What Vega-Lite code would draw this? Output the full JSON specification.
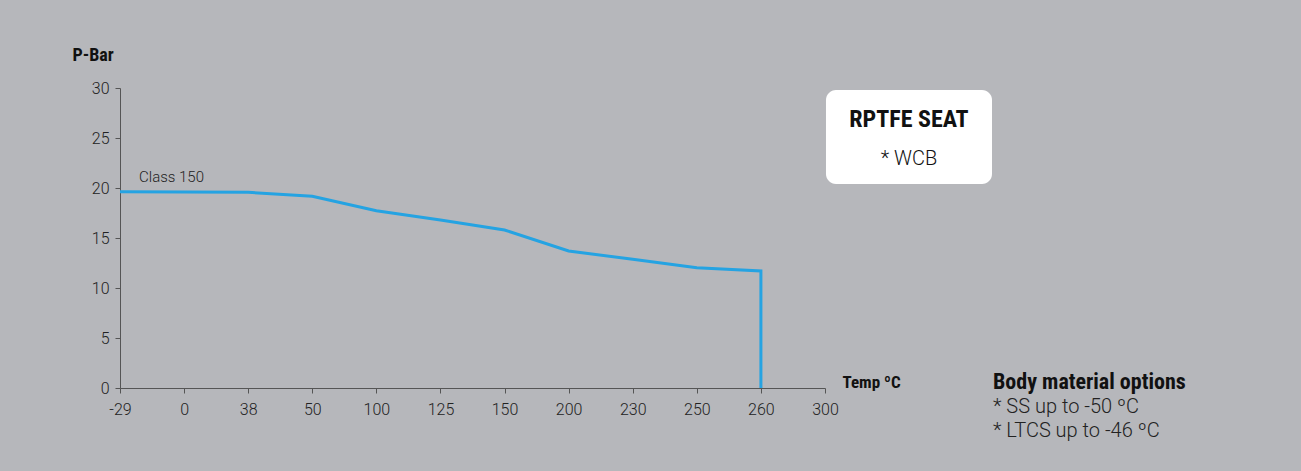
{
  "$schema": "https://vega.github.io/schema/vega-lite/v6.json",
  "width": 705,
  "height": 300,
  "autosize": {"type": "none"},
  "padding": {"left": 120, "top": 88, "right": 476, "bottom": 83},
  "background": "#b6b7bb",
  "config": {
    "view": {"stroke": null},
    "font": "Roboto",
    "axis": {
      "grid": false,
      "domainColor": "#555555",
      "tickColor": "#555555",
      "tickSize": 5,
      "labelFont": "Roboto",
      "labelFontWeight": 300,
      "labelFontSize": 16,
      "labelColor": "#222222",
      "titleFont": "Roboto Condensed, DejaVu Sans Condensed, Roboto",
      "titleFontWeight": "bold",
      "titleColor": "#111111",
      "titleAngle": 0,
      "titleAlign": "left",
      "titleBaseline": "middle"
    }
  },
  "layer": [
    {
      "data": {
        "values": [
          {"seq": 1, "temp": -29, "p": 19.63},
          {"seq": 2, "temp": 0, "p": 19.6},
          {"seq": 3, "temp": 38, "p": 19.57},
          {"seq": 4, "temp": 50, "p": 19.17},
          {"seq": 5, "temp": 100, "p": 17.73},
          {"seq": 6, "temp": 125, "p": 16.8},
          {"seq": 7, "temp": 150, "p": 15.8},
          {"seq": 8, "temp": 200, "p": 13.7},
          {"seq": 9, "temp": 230, "p": 12.87},
          {"seq": 10, "temp": 250, "p": 12.03},
          {"seq": 11, "temp": 260, "p": 11.7},
          {"seq": 12, "temp": 260, "p": 0}
        ]
      },
      "mark": {"type": "line", "color": "#25a3e2", "strokeWidth": 3},
      "encoding": {
        "x": {
          "field": "temp",
          "type": "ordinal",
          "scale": {"type": "point", "padding": 0, "domain": [-29, 0, 38, 50, 100, 125, 150, 200, 230, 250, 260, 300]},
          "axis": {
            "title": "Temp ºC",
            "titleFontSize": 17,
            "titleX": 722,
            "titleY": -6,
            "labelAngle": 0,
            "labelPadding": 8
          }
        },
        "y": {
          "field": "p",
          "type": "quantitative",
          "scale": {"domain": [0, 30], "nice": false},
          "axis": {
            "title": "P-Bar",
            "titleFontSize": 18,
            "titleX": -48,
            "titleY": -33,
            "values": [0, 5, 10, 15, 20, 25, 30],
            "labelPadding": 6
          }
        },
        "order": {"field": "seq"}
      }
    },
    {
      "data": {"values": [{"fx": 1.0014, "fx2": 1.2369, "p": 29.8, "p2": 20.4}]},
      "mark": {"type": "rect", "fill": "white", "cornerRadius": 10},
      "encoding": {
        "x": {"field": "fx", "type": "quantitative", "scale": {"domain": [0, 1], "nice": false}, "axis": null},
        "x2": {"field": "fx2"},
        "y": {"field": "p", "type": "quantitative", "scale": {"domain": [0, 30], "nice": false}},
        "y2": {"field": "p2"}
      }
    },
    {
      "data": {"values": [{"fx": 1.1191, "p": 26.8, "label": "RPTFE SEAT"}]},
      "mark": {"type": "text", "font": "Roboto Condensed, DejaVu Sans Condensed, Roboto", "fontWeight": "bold", "fontSize": 24, "color": "#111111", "align": "center", "baseline": "middle"},
      "encoding": {
        "x": {"field": "fx", "type": "quantitative", "scale": {"domain": [0, 1], "nice": false}, "axis": null},
        "y": {"field": "p", "type": "quantitative", "scale": {"domain": [0, 30], "nice": false}},
        "text": {"field": "label"}
      }
    },
    {
      "data": {"values": [{"fx": 1.1191, "p": 22.9, "label": "* WCB"}]},
      "mark": {"type": "text", "font": "Roboto", "fontWeight": 300, "fontSize": 20, "color": "#111111", "align": "center", "baseline": "middle"},
      "encoding": {
        "x": {"field": "fx", "type": "quantitative", "scale": {"domain": [0, 1], "nice": false}, "axis": null},
        "y": {"field": "p", "type": "quantitative", "scale": {"domain": [0, 30], "nice": false}},
        "text": {"field": "label"}
      }
    },
    {
      "data": {"values": [{"fx": 0.027, "p": 21.1, "label": "Class 150"}]},
      "mark": {"type": "text", "font": "Roboto", "fontWeight": 300, "fontSize": 15, "color": "#222222", "align": "left", "baseline": "middle"},
      "encoding": {
        "x": {"field": "fx", "type": "quantitative", "scale": {"domain": [0, 1], "nice": false}, "axis": null},
        "y": {"field": "p", "type": "quantitative", "scale": {"domain": [0, 30], "nice": false}},
        "text": {"field": "label"}
      }
    },
    {
      "data": {"values": [{"fx": 1.2383, "p": 0.6, "label": "Body material options"}]},
      "mark": {"type": "text", "font": "Roboto Condensed, DejaVu Sans Condensed, Roboto", "fontWeight": "bold", "fontSize": 22, "color": "#111111", "align": "left", "baseline": "middle"},
      "encoding": {
        "x": {"field": "fx", "type": "quantitative", "scale": {"domain": [0, 1], "nice": false}, "axis": null},
        "y": {"field": "p", "type": "quantitative", "scale": {"domain": [0, 30], "nice": false}},
        "text": {"field": "label"}
      }
    },
    {
      "data": {"values": [{"fx": 1.2383, "p": -1.9, "label": "* SS up to -50 ºC"}, {"fx": 1.2383, "p": -4.3, "label": "* LTCS up to -46 ºC"}]},
      "mark": {"type": "text", "font": "Roboto", "fontWeight": 300, "fontSize": 20, "color": "#222222", "align": "left", "baseline": "middle"},
      "encoding": {
        "x": {"field": "fx", "type": "quantitative", "scale": {"domain": [0, 1], "nice": false}, "axis": null},
        "y": {"field": "p", "type": "quantitative", "scale": {"domain": [0, 30], "nice": false}},
        "text": {"field": "label"}
      }
    }
  ],
  "resolve": {"scale": {"x": "independent"}}
}
